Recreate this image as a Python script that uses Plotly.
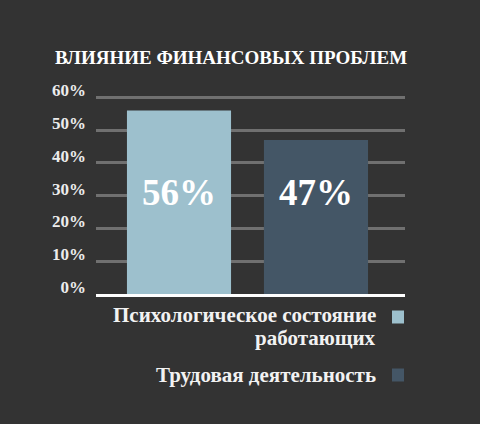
import plotly.graph_objects as go

# data
categories = ["Психологическое состояние<br>работающих", "Трудовая деятельность"]
values = [56, 47]
bar_colors = ["#9dc0cd", "#445666"]
tick_vals = [0, 10, 20, 30, 40, 50, 60]
tick_text = ["0%", "10%", "20%", "30%", "40%", "50%", "60%"]
title = "ВЛИЯНИЕ ФИНАНСОВЫХ ПРОБЛЕМ"

SERIF = "Liberation Serif, DejaVu Serif, serif"
BG = "#333333"

# plot area in pixels (y range runs a bit past 60 so the top grid line shows)
L, R, T, B = 96, 405, 94, 294


def px(x):
    return (x - L) / (R - L)


def py(y):
    return (B - y) / (B - T)


fig = go.Figure()
fig.add_trace(go.Bar(
    x=list(range(len(values))),
    y=values,
    marker_color=bar_colors,
    marker_line_width=0,
    width=0.76,
    hoverinfo="skip",
))

# big value labels inside the bars
for i, v in enumerate(values):
    fig.add_annotation(
        x=i, y=31, xref="x", yref="y",
        text=f"<b>{v}%</b>", showarrow=False,
        font=dict(family=SERIF, size=37, color="#ffffff"),
    )

# legend on the right side: text lines, then swatch
legend_rows = [[315, 338], [375]]
swatch_y = [317, 375]
for name, col, rows, sy in zip(categories, bar_colors, legend_rows, swatch_y):
    for line, yl in zip(name.split("<br>"), rows):
        fig.add_annotation(
            x=px(378), y=py(yl), xref="paper", yref="paper",
            xanchor="right", yanchor="middle",
            text=f"<b>{line}</b>", showarrow=False,
            font=dict(family=SERIF, size=21, color="#f2f2f2"),
        )
    fig.add_shape(
        type="rect", xref="paper", yref="paper",
        x0=px(392), x1=px(404), y0=py(sy + 6.5), y1=py(sy - 6.5),
        fillcolor=col, line_width=0,
    )

fig.update_layout(
    width=480, height=424,
    paper_bgcolor=BG, plot_bgcolor=BG,
    margin=dict(l=L, r=480 - R, t=T, b=424 - B),
    showlegend=False,
    bargap=0.24,
    title=dict(
        text=f"<b>{title}</b>", x=231 / 480, xanchor="center",
        y=1 - 57 / 424, yanchor="middle",
        font=dict(family=SERIF, size=19, color="#ffffff"),
    ),
    xaxis=dict(
        range=[-0.606, 1.65], showticklabels=False, showgrid=False,
        zeroline=False, showline=True, linecolor="#ffffff", linewidth=3,
    ),
    yaxis=dict(
        range=[0, 61], tickvals=tick_vals, ticktext=tick_text,
        showgrid=True, gridcolor="#707070", gridwidth=3, zeroline=False,
        ticklabelstandoff=9, ticklabelshift=-7,
        tickfont=dict(family=SERIF, size=17, color="#ececec", weight="bold"),
    ),
)

fig.write_html("out.html", config={"displayModeBar": False},
               post_script="document.body.style.margin='0';")
